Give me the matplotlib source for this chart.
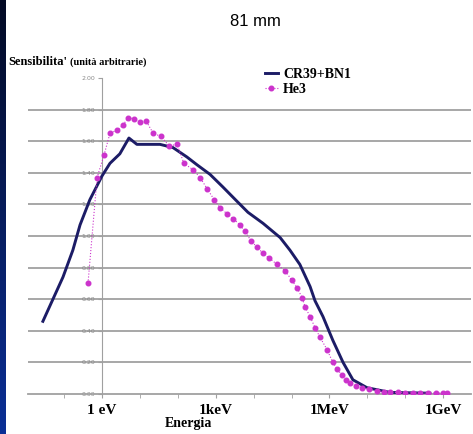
import numpy as np
import matplotlib
matplotlib.use("Agg")
import matplotlib.pyplot as plt
from matplotlib.ticker import FixedLocator, FixedFormatter, FormatStrFormatter

# log10 of energy (eV) and sensitivity
cr39_logE = [-1.56, -1.03, -0.77, -0.58, -0.32, 0.0, 0.21, 0.47, 0.71, 0.92,
             1.21, 1.53, 1.87, 2.24, 2.51, 2.85, 3.19, 3.56, 3.85, 4.25,
             4.70, 4.96, 5.22, 5.49, 5.62, 5.83, 6.09, 6.36, 6.62, 6.99,
             7.60, 8.65]
cr39_val = [0.46, 0.74, 0.91, 1.07, 1.23, 1.38, 1.46, 1.52, 1.62, 1.58,
            1.58, 1.58, 1.56, 1.50, 1.45, 1.39, 1.31, 1.22, 1.15, 1.08,
            0.99, 0.91, 0.82, 0.68, 0.59, 0.49, 0.34, 0.20, 0.09, 0.04,
            0.01, 0.005]

he3_logE = [-0.37, -0.13, 0.05, 0.21, 0.40, 0.55, 0.69, 0.84, 1.00, 1.16,
            1.35, 1.56, 1.77, 1.98, 2.16, 2.40, 2.59, 2.77, 2.96, 3.11,
            3.30, 3.46, 3.64, 3.77, 3.93, 4.09, 4.25, 4.41, 4.62, 4.83,
            5.01, 5.15, 5.28, 5.36, 5.49, 5.62, 5.75, 5.94, 6.09, 6.20,
            6.33, 6.45, 6.54, 6.70, 6.86, 7.05, 7.26, 7.45, 7.60, 7.80,
            8.00, 8.20, 8.40, 8.60, 8.80, 9.00, 9.10]
he3_val = [0.70, 1.37, 1.51, 1.65, 1.67, 1.70, 1.75, 1.74, 1.72, 1.73,
           1.65, 1.63, 1.57, 1.58, 1.46, 1.42, 1.37, 1.30, 1.23, 1.18,
           1.14, 1.11, 1.07, 1.03, 0.97, 0.93, 0.89, 0.86, 0.82, 0.78,
           0.72, 0.67, 0.61, 0.55, 0.49, 0.42, 0.36, 0.28, 0.20, 0.16,
           0.12, 0.09, 0.07, 0.05, 0.04, 0.03, 0.02, 0.015, 0.01, 0.01,
           0.008, 0.007, 0.006, 0.006, 0.005, 0.005, 0.005]

x_tick_exp = [0, 3, 6, 9]
x_tick_labels = ["1 eV", "1keV", "1MeV", "1GeV"]
y_ticks = [0.0, 0.2, 0.4, 0.6, 0.8, 1.0, 1.2, 1.4, 1.6, 1.8, 2.0]

serif = ["Liberation Serif", "DejaVu Serif"]
navy = "#1c1c66"
magenta = "#cc33cc"

fig = plt.figure(figsize=(4.73, 4.34), dpi=100)
fig.patch.set_facecolor("white")

# dark blue strip on the left side
strip = fig.add_axes([0, 0, 5 / 473, 1])
grad = np.linspace(0, 1, 256).reshape(-1, 1)
strip.imshow(grad, aspect="auto", cmap=matplotlib.colors.LinearSegmentedColormap.from_list(
    "s", ["#030a24", "#0b2f96"]), extent=[0, 1, 0, 1], origin="upper")
strip.axis("off")

ax = fig.add_axes([28 / 473, 40 / 434, 443 / 473, 316 / 434])
ax.set_xscale("log")
ax.set_xlim(10 ** -1.953, 10 ** 9.736)
ax.set_ylim(0, 2.0)

for yv in y_ticks[1:-1]:
    ax.axhline(yv, color="#a0a0a0", lw=1.3, zorder=1)

ax.plot(10 ** np.array(cr39_logE), cr39_val, color=navy, lw=2.1,
        label="CR39+BN1", zorder=3)
ax.plot(10 ** np.array(he3_logE), he3_val, color=magenta, lw=0.8, ls=":",
        marker="o", ms=3.3, mec=magenta, mfc=magenta, label="He3", zorder=4)

for s in ["top", "right"]:
    ax.spines[s].set_visible(False)
ax.spines["left"].set_position(("data", 1))
ax.spines["left"].set_color("#a0a0a0")
ax.spines["bottom"].set_color("#a0a0a0")
ax.spines["bottom"].set_linewidth(1.3)

ax.xaxis.set_major_locator(FixedLocator([10.0 ** e for e in x_tick_exp]))
ax.xaxis.set_major_formatter(FixedFormatter(x_tick_labels))
ax.xaxis.set_minor_locator(FixedLocator([10.0 ** e for e in range(-1, 10)]))
ax.xaxis.set_minor_formatter(FixedFormatter([]))
ax.tick_params(axis="x", which="both", direction="out", length=3,
               color="#a0a0a0", pad=4)
for lab in ax.get_xticklabels():
    lab.set_family(serif)
    lab.set_fontweight("bold")
    lab.set_fontsize(11)

ax.set_yticks(y_ticks)
ax.yaxis.set_major_formatter(FormatStrFormatter("%.2f"))
ax.tick_params(axis="y", direction="out", length=3, color="#a0a0a0",
               labelsize=4.5, labelcolor="#8a8a8a", pad=2)

fig.text(255 / 473, 1 - 21 / 434, "81 mm", ha="center", va="center",
         fontsize=12, family="Liberation Sans")
fig.text(8 / 473, 1 - 62 / 434, "Sensibilita'", ha="left", va="center",
         fontsize=9, family=serif, fontweight="bold")
fig.text(70 / 473, 1 - 62 / 434, "(unità arbitrarie)", ha="left", va="center",
         fontsize=7.5, family=serif, fontweight="bold")
fig.text(165 / 473, 1 - 423 / 434, "Energia", ha="left", va="center",
         fontsize=10, family=serif, fontweight="bold")

ax.legend(loc="upper left", bbox_to_anchor=(265 / 473, 1 - 68 / 434),
          bbox_transform=fig.transFigure, frameon=False, handlelength=0.9,
          handletextpad=0.4, labelspacing=0.15, borderaxespad=0,
          borderpad=0, prop={"family": serif, "weight": "bold", "size": 10})

fig.savefig("out.png", dpi=100)
